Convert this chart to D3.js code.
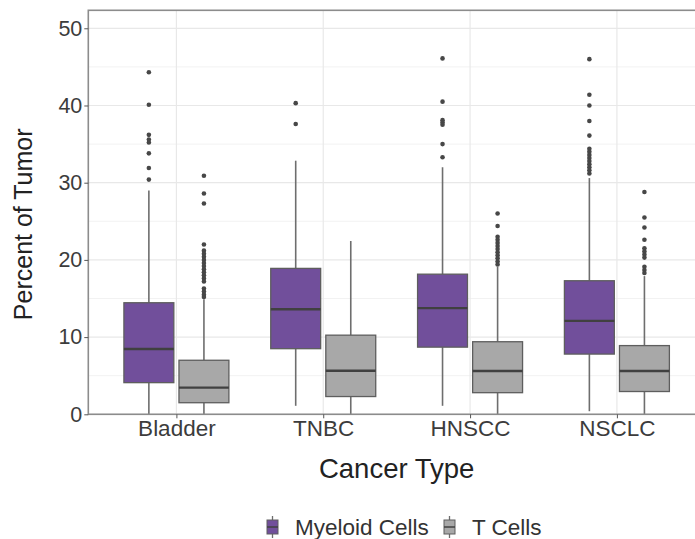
<!DOCTYPE html>
<html>
<head>
<meta charset="utf-8">
<script src="https://cdn.jsdelivr.net/npm/d3@7"></script>
<style>
  html, body { margin: 0; padding: 0; background: #fff; }
  svg { display: block; font-family: "Liberation Sans", Arial, sans-serif; }
</style>
</head>
<body>
<svg id="chart" width="695" height="539"></svg>
<script>
// ---- data ----
const categories = ["Bladder", "TNBC", "HNSCC", "NSCLC"];
const seriesNames = ["Myeloid Cells", "T Cells"];
const yTicks = [0, 10, 20, 30, 40, 50];
const yMinorTicks = [5, 15, 25, 35, 45];

// Myeloid Cells: lower whisker, Q1, median, Q3, upper whisker
const myeloidLow    = [0.0, 1.1, 1.1, 0.4];
const myeloidQ1     = [4.1, 8.5, 8.7, 7.8];
const myeloidMedian = [8.45, 13.6, 13.75, 12.1];
const myeloidQ3     = [14.45, 18.9, 18.15, 17.3];
const myeloidHigh   = [29.0, 32.85, 32.0, 30.6];
const myeloidOutliers = [
  [44.3, 40.1, 36.2, 35.6, 35.2, 33.8, 31.9, 30.4],
  [40.3, 37.6],
  [46.1, 40.5, 38.1, 37.8, 37.5, 35.0, 33.3],
  [46.0, 41.4, 40.0, 38.0, 36.1, 34.4, 34.0, 33.6, 33.2, 32.8, 32.4, 32.0, 31.6, 31.2]
];

// T Cells
const tLow    = [0.0, 0.0, 0.0, 0.0];
const tQ1     = [1.5, 2.3, 2.8, 2.95];
const tMedian = [3.45, 5.65, 5.6, 5.6];
const tQ3     = [7.0, 10.25, 9.4, 8.9];
const tHigh   = [14.9, 22.45, 19.1, 17.9];
const tOutliers = [
  [30.9, 28.6, 27.3, 22.0, 21.2, 20.8, 20.4, 20.0, 19.6, 19.2, 18.8, 18.4, 18.0, 17.6, 17.2, 16.3, 15.9, 15.5, 15.2],
  [],
  [26.0, 24.4, 23.0, 22.6, 22.2, 21.8, 21.4, 21.0, 20.6, 20.2, 19.8, 19.4],
  [28.8, 25.5, 24.2, 22.6, 21.5, 21.1, 20.7, 20.3, 19.1, 18.7, 18.3]
];

// ---- build table ----
const seriesColors = ["#714f9b", "#a8a8a8"];
const rows = [];
categories.forEach((c, i) => {
  rows.push({cat: c, s: 0, lo: myeloidLow[i], q1: myeloidQ1[i], med: myeloidMedian[i], q3: myeloidQ3[i], hi: myeloidHigh[i], out: myeloidOutliers[i]});
  rows.push({cat: c, s: 1, lo: tLow[i], q1: tQ1[i], med: tMedian[i], q3: tQ3[i], hi: tHigh[i], out: tOutliers[i]});
});

// ---- layout ----
const svg = d3.select("#chart");
const panel = {left: 88.3, top: 10.3, right: 705, bottom: 414.3};

const y = d3.scaleLinear().domain([0, 52.33]).range([panel.bottom, panel.top]);
const x = d3.scalePoint().domain(categories).range([panel.left, panel.right]).padding(0.6);
const step = x.step();
const dodge = d3.scaleBand().domain([0, 1]).range([-0.375 * step, 0.375 * step]);
const boxW = 0.34 * step;

// grid
const g = svg.append("g");
g.selectAll(".minor").data(yMinorTicks).enter().append("line")
  .attr("x1", panel.left).attr("x2", panel.right)
  .attr("y1", d => y(d)).attr("y2", d => y(d))
  .attr("stroke", "#f2f2f2").attr("stroke-width", 1);
g.selectAll(".major").data(yTicks).enter().append("line")
  .attr("x1", panel.left).attr("x2", panel.right)
  .attr("y1", d => y(d)).attr("y2", d => y(d))
  .attr("stroke", "#e8e8e8").attr("stroke-width", 1.2);
g.selectAll(".vmajor").data(categories).enter().append("line")
  .attr("x1", d => x(d)).attr("x2", d => x(d))
  .attr("y1", panel.top).attr("y2", panel.bottom)
  .attr("stroke", "#e8e8e8").attr("stroke-width", 1.2);

// boxes
const boxes = svg.append("g").selectAll("g").data(rows).enter().append("g")
  .attr("transform", d => `translate(${x(d.cat) + dodge(d.s) + dodge.bandwidth() / 2},0)`);

boxes.append("line")
  .attr("x1", 0).attr("x2", 0)
  .attr("y1", d => y(d.q3)).attr("y2", d => y(d.hi))
  .attr("stroke", "#6e6e6e").attr("stroke-width", 1.6);
boxes.append("line")
  .attr("x1", 0).attr("x2", 0)
  .attr("y1", d => y(d.q1)).attr("y2", d => y(d.lo))
  .attr("stroke", "#6e6e6e").attr("stroke-width", 1.6);
boxes.append("rect")
  .attr("x", -boxW / 2).attr("width", boxW)
  .attr("y", d => y(d.q3)).attr("height", d => y(d.q1) - y(d.q3))
  .attr("fill", d => seriesColors[d.s])
  .attr("stroke", "#5e5e5e").attr("stroke-width", 1.3);
boxes.append("line")
  .attr("x1", -boxW / 2).attr("x2", boxW / 2)
  .attr("y1", d => y(d.med)).attr("y2", d => y(d.med))
  .attr("stroke", "#404040").attr("stroke-width", 2.4);
boxes.selectAll("circle").data(d => d.out).enter().append("circle")
  .attr("cx", 0).attr("cy", v => y(v)).attr("r", 2.3)
  .attr("fill", "#474747");

// panel border
svg.append("rect")
  .attr("x", panel.left).attr("y", panel.top)
  .attr("width", panel.right - panel.left).attr("height", panel.bottom - panel.top)
  .attr("fill", "none").attr("stroke", "#8c8c8c").attr("stroke-width", 1.6);

// axes
const yAxis = svg.append("g").attr("transform", `translate(${panel.left},0)`)
  .call(d3.axisLeft(y).tickValues(yTicks).tickSize(4).tickPadding(2));
yAxis.select(".domain").remove();
yAxis.selectAll("line").attr("stroke", "#555");
yAxis.selectAll("text").attr("font-size", 21.5).attr("fill", "#3c3c3c")
  .attr("font-family", "Liberation Sans, Arial, sans-serif");

const xAxis = svg.append("g").attr("transform", `translate(0,${panel.bottom})`)
  .call(d3.axisBottom(x).tickSize(4).tickPadding(2));
xAxis.select(".domain").remove();
xAxis.selectAll("line").attr("stroke", "#555");
xAxis.selectAll("text").attr("font-size", 22.5).attr("fill", "#3c3c3c")
  .attr("font-family", "Liberation Sans, Arial, sans-serif");

// titles
svg.append("text")
  .attr("x", (panel.left + panel.right) / 2).attr("y", 478)
  .attr("text-anchor", "middle").attr("font-size", 27.5).attr("fill", "#222")
  .text("Cancer Type");
svg.append("text")
  .attr("transform", `translate(32,${(panel.top + panel.bottom) / 2 + 12}) rotate(-90)`)
  .attr("text-anchor", "middle").attr("font-size", 25).attr("fill", "#222")
  .text("Percent of Tumor");

// legend
const legendX = [272.5, 449.5];
const legend = svg.append("g").selectAll("g").data(seriesNames).enter().append("g")
  .attr("transform", (d, i) => `translate(${legendX[i]},527)`);
legend.append("line").attr("x1", 0).attr("x2", 0).attr("y1", -11).attr("y2", 11)
  .attr("stroke", "#6e6e6e").attr("stroke-width", 1.3);
legend.append("rect").attr("x", -5.5).attr("y", -7).attr("width", 11).attr("height", 14)
  .attr("fill", (d, i) => seriesColors[i]).attr("stroke", "#5e5e5e").attr("stroke-width", 1);
legend.append("line").attr("x1", -5.5).attr("x2", 5.5).attr("y1", 0).attr("y2", 0)
  .attr("stroke", "#404040").attr("stroke-width", 1.5);
legend.append("text").attr("x", 22.5).attr("y", 8).attr("font-size", 22.5).attr("fill", "#333")
  .text(d => d);
</script>
</body>
</html>
